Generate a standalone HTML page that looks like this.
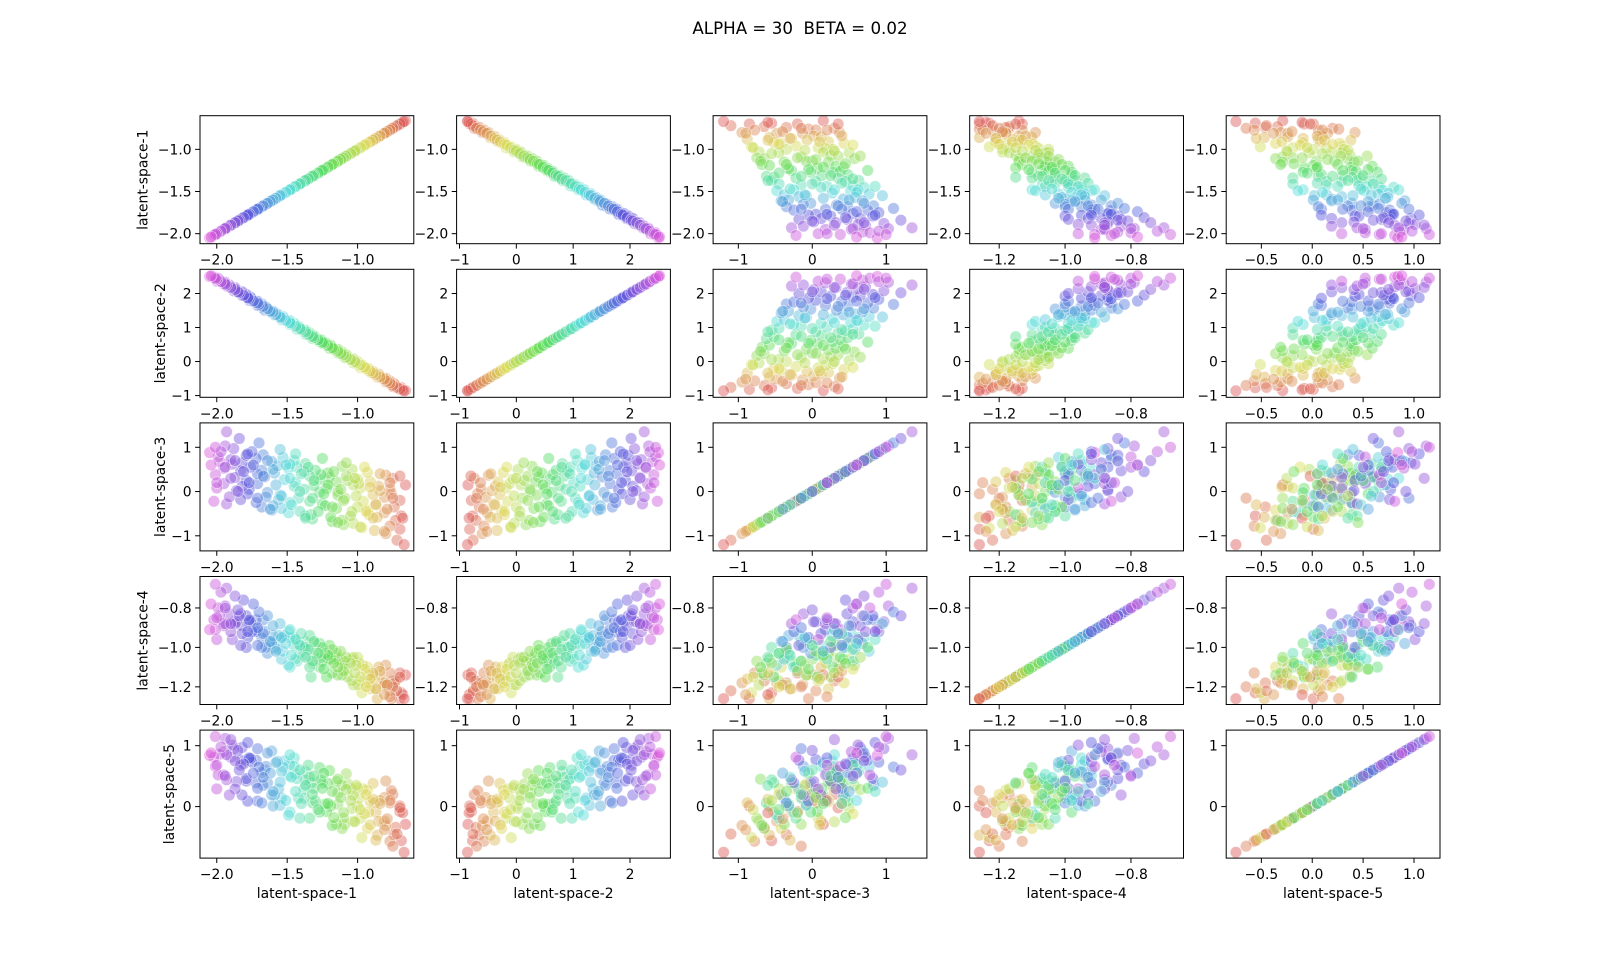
<!DOCTYPE html>
<html>
<head>
<meta charset="utf-8">
<style>
html,body{margin:0;padding:0;background:#fff;}
svg{display:block;font-family:"DejaVu Sans","Liberation Sans",sans-serif;}
</style>
</head>
<body>
<svg id="fig" width="1600" height="964" viewBox="0 0 1600 964" xmlns="http://www.w3.org/2000/svg">
<rect width="1600" height="964" fill="#fff"/>
<text x="800" y="34" text-anchor="middle" font-size="16.7" fill="#000" xml:space="preserve" style="white-space:pre">ALPHA = 30  BETA = 0.02</text>
</svg>
<script>
// ---- data: each sample = [latent-space-1 .. latent-space-5] ----
const varNames = ["latent-space-1","latent-space-2","latent-space-3","latent-space-4","latent-space-5"];
const dataLimits = [[-2.05,-0.67],[-0.88,2.54],[-1.21,1.42],[-1.26,-0.67],[-0.75,1.16]];
const xTickValues = [[-2.0,-1.5,-1.0],[-1,0,1,2],[-1,0,1],[-1.2,-1.0,-0.8],[-0.5,0.0,0.5,1.0]];
const xTickLabels = [["−2.0","−1.5","−1.0"],["−1","0","1","2"],["−1","0","1"],["−1.2","−1.0","−0.8"],["−0.5","0.0","0.5","1.0"]];
const yTickValues = [[-2.0,-1.5,-1.0],[-1,0,1,2],[-1,0,1],[-1.2,-1.0,-0.8],[0,1]];
const yTickLabels = [["−2.0","−1.5","−1.0"],["−1","0","1","2"],["−1","0","1"],["−1.2","−1.0","−0.8"],["0","1"]];
const samples = [
[-0.66,-0.85,0.15,-1.14,-0.29],[-0.70,-0.82,-0.85,-1.26,0.01],[-0.70,-0.79,-0.20,-1.13,-0.08],[-0.69,-0.77,-0.55,-1.23,-0.56],[-0.75,-0.74,0.30,-1.17,0.20],
[-0.73,-0.71,-0.65,-1.17,-0.34],[-0.76,-0.68,-0.05,-1.26,0.26],[-0.74,-0.65,-0.35,-1.18,-0.46],[-0.77,-0.62,0.05,-1.22,0.06],[-0.80,-0.60,-0.95,-1.18,-0.31],
[-0.77,-0.57,-0.78,-1.13,-0.57],[-0.81,-0.54,-0.13,-1.19,0.15],[-0.81,-0.51,-0.48,-1.18,-0.24],[-0.80,-0.49,0.37,-1.09,0.42],[-0.86,-0.46,-0.58,-1.26,-0.47],
[-0.84,-0.43,0.02,-1.14,0.10],[-0.87,-0.40,-0.28,-1.21,-0.09],[-0.85,-0.37,0.12,-1.10,-0.24],[-0.88,-0.34,-0.88,-1.16,0.06],[-0.91,-0.32,0.22,-1.21,0.08],
[-0.89,-0.29,-0.07,-1.14,0.38],[-0.93,-0.26,-0.42,-1.10,-0.36],[-0.93,-0.23,0.43,-1.18,0.27],[-0.92,-0.21,-0.52,-1.14,-0.09],[-0.98,-0.18,0.08,-1.17,-0.19],
[-0.96,-0.15,-0.22,-1.09,0.29],[-0.99,-0.12,0.18,-1.08,0.14],[-0.97,-0.09,-0.82,-1.23,-0.51],[-1.00,-0.06,0.28,-1.05,0.31],[-1.03,-0.04,-0.72,-1.19,-0.24],
[-1.00,0.00,-0.35,-1.19,0.01],[-1.04,0.03,0.50,-1.06,-0.03],[-1.04,0.06,-0.45,-1.17,0.29],[-1.03,0.08,0.15,-1.05,0.19],[-1.09,0.11,-0.15,-1.07,-0.29],
[-1.07,0.14,0.25,-1.15,0.37],[-1.10,0.17,-0.75,-1.07,-0.19],[-1.08,0.20,0.35,-1.11,0.54],[-1.11,0.23,-0.65,-1.14,-0.36],[-1.14,0.25,0.00,-1.06,0.22],
[-1.11,0.28,0.57,-1.09,0.35],[-1.15,0.31,-0.38,-1.05,-0.29],[-1.15,0.34,0.22,-1.03,0.41],[-1.14,0.36,-0.08,-1.14,0.04],[-1.20,0.39,0.32,-0.99,0.59],
[-1.18,0.42,-0.68,-1.13,-0.31],[-1.21,0.45,0.42,-1.06,0.38],[-1.19,0.48,-0.58,-1.06,0.01],[-1.22,0.51,0.07,-1.15,-0.08],[-1.25,0.53,-0.28,-1.07,0.39],
[-1.23,0.56,-0.32,-1.03,0.04],[-1.27,0.59,0.28,-1.10,0.64],[-1.27,0.62,-0.02,-0.98,-0.09],[-1.26,0.64,0.38,-1.05,0.43],[-1.32,0.67,-0.62,-1.08,0.06],
[-1.30,0.70,0.48,-0.98,0.09],[-1.33,0.73,-0.52,-1.15,0.39],[-1.31,0.76,0.13,-1.03,0.30],[-1.34,0.79,-0.22,-1.10,-0.19],[-1.37,0.81,0.63,-0.97,0.58],
[-1.34,0.84,0.35,-0.94,0.48],[-1.38,0.87,0.05,-1.04,0.29],[-1.38,0.90,0.45,-1.00,0.14],[-1.37,0.92,-0.55,-1.00,0.44],[-1.43,0.95,0.55,-1.07,0.46],
[-1.41,0.98,-0.45,-1.03,-0.19],[-1.44,1.01,0.20,-1.06,0.53],[-1.42,1.04,-0.15,-0.98,0.14],[-1.45,1.07,0.70,-0.95,0.80],[-1.48,1.09,-0.25,-1.10,-0.09],
[-1.45,1.12,0.12,-0.99,0.66],[-1.49,1.15,0.52,-0.92,0.51],[-1.49,1.18,-0.48,-1.09,-0.14],[-1.48,1.20,0.62,-0.95,0.69],[-1.54,1.23,-0.38,-1.06,0.14],
[-1.52,1.26,0.27,-0.94,0.75],[-1.55,1.29,-0.08,-0.96,0.02],[-1.53,1.32,0.77,-1.02,0.65],[-1.56,1.35,-0.18,-0.94,0.29],[-1.59,1.37,0.42,-1.00,0.19],
[-1.57,1.40,0.58,-1.01,0.74],[-1.61,1.43,-0.42,-0.97,0.19],[-1.61,1.46,0.68,-0.98,0.91],[-1.60,1.48,-0.32,-0.94,0.01],[-1.66,1.51,0.33,-0.92,0.60],
[-1.64,1.54,-0.02,-1.03,0.39],[-1.67,1.57,0.83,-0.86,0.35],[-1.65,1.60,-0.12,-1.00,0.66],[-1.68,1.63,0.48,-0.95,0.56],[-1.71,1.65,0.18,-0.91,0.09],
[-1.68,1.69,-0.35,-1.00,0.06],[-1.72,1.72,0.75,-0.86,0.76],[-1.72,1.75,-0.25,-0.92,0.39],[-1.71,1.77,0.40,-0.99,0.30],[-1.77,1.80,0.05,-0.87,0.77],
[-1.75,1.83,0.90,-0.92,0.73],[-1.78,1.86,-0.05,-0.95,0.09],[-1.76,1.89,0.55,-0.87,0.79],[-1.79,1.92,0.25,-1.00,0.42],[-1.82,1.94,0.65,-0.89,0.97],
[-1.79,1.97,0.82,-0.84,0.46],[-1.83,2.00,-0.18,-0.99,0.76],[-1.83,2.03,0.47,-0.83,0.68],[-1.82,2.05,0.12,-0.93,0.19],[-1.88,2.08,0.97,-0.87,0.95],
[-1.86,2.11,0.02,-0.87,0.41],[-1.89,2.14,0.62,-0.96,1.01],[-1.87,2.17,0.32,-0.88,0.29],[-1.90,2.20,0.72,-0.92,0.81],[-1.93,2.22,-0.28,-0.88,0.44],
[-1.91,2.25,-0.12,-0.83,0.19],[-1.95,2.28,0.53,-0.89,0.90],[-1.95,2.31,0.18,-0.88,0.52],[-1.94,2.33,1.03,-0.79,1.12],[-2.00,2.36,0.08,-0.96,0.29],
[-1.98,2.39,0.68,-0.84,0.86],[-2.01,2.42,0.38,-0.91,0.66],[-1.99,2.45,0.78,-0.80,0.52],[-2.02,2.48,-0.22,-0.86,0.81],[-2.05,2.50,0.88,-0.91,0.84],
[-0.68,-0.83,-0.60,-1.24,-0.10],[-0.70,-0.80,0.35,-1.15,-0.02],[-0.72,-0.76,-1.10,-1.22,-0.45],[-0.75,-0.70,-0.15,-1.20,-0.65],[-0.77,-0.63,0.20,-1.25,0.10],
[-0.79,-0.58,-0.40,-1.19,-0.20],[-0.81,-0.52,-0.90,-1.24,-0.38],[-0.84,-0.45,0.40,-1.12,0.05],[-0.87,-0.38,-0.30,-1.21,-0.55],[-0.89,-0.34,-0.60,-1.13,0.12],
[-0.91,-0.28,0.10,-1.16,-0.30],[-0.94,-0.21,-0.45,-1.20,0.20],[-0.95,-0.17,0.55,-1.11,-0.12],[-0.98,-0.10,-0.80,-1.15,-0.05],[-1.01,-0.04,-0.10,-1.09,0.35],
[-1.02,0.00,0.30,-1.13,-0.25],[-1.05,0.06,-0.55,-1.08,0.10],[-1.08,0.13,0.65,-1.05,0.28],[-1.10,0.20,-0.20,-1.12,-0.10],[-1.12,0.24,0.05,-1.02,0.15],
[-1.14,0.30,-0.70,-1.10,0.45],[-1.17,0.37,0.45,-1.08,-0.18],[-1.18,0.40,-0.35,-1.01,0.25],[-1.21,0.47,0.15,-1.04,0.05],[-1.24,0.54,-0.05,-1.11,0.55],
[-1.25,0.57,0.75,-1.00,0.30],[-1.28,0.64,-0.45,-1.03,-0.05],[-1.31,0.70,0.25,-0.97,0.50],[-1.32,0.74,-0.15,-1.07,0.20],[-1.35,0.80,0.55,-1.01,0.68],
[-1.37,0.87,-0.60,-1.05,0.35],[-1.40,0.94,0.40,-0.93,0.05],[-1.41,0.97,0.00,-0.99,0.60],[-1.44,1.04,0.85,-0.96,0.25],[-1.47,1.11,-0.30,-1.04,0.48],
[-1.48,1.14,0.30,-0.91,0.85],[-1.51,1.21,0.60,-0.98,0.10],[-1.54,1.28,-0.10,-0.95,0.58],[-1.55,1.31,0.95,-0.88,0.40],[-1.58,1.38,0.15,-1.02,0.72],
[-1.60,1.45,0.50,-0.89,0.25],[-1.62,1.48,-0.40,-0.97,0.55],[-1.64,1.55,0.70,-0.84,0.88],[-1.67,1.62,0.35,-0.93,0.48],[-1.70,1.68,1.10,-0.82,0.65],
[-1.71,1.72,-0.15,-0.90,0.95],[-1.74,1.78,0.60,-0.78,0.55],[-1.77,1.85,0.20,-0.86,0.80],[-1.78,1.88,0.85,-0.92,1.05],[-1.81,1.95,0.45,-0.76,0.70],
[-1.84,2.02,1.20,-0.84,0.60],[-1.85,2.05,0.00,-0.81,0.92],[-1.87,2.12,0.70,-0.74,0.75],[-1.90,2.18,0.30,-0.88,1.10],[-1.93,2.25,1.35,-0.70,0.85],
[-1.94,2.28,0.55,-0.80,0.50],[-1.97,2.35,0.90,-0.72,0.98],[-2.00,2.42,0.20,-0.85,0.68],[-2.01,2.45,1.00,-0.68,1.15],[-2.04,2.52,0.60,-0.78,0.88],
[-0.67,-0.86,-1.20,-1.26,-0.75]
];

// ---- layout ----
const NS = "http://www.w3.org/2000/svg";
const svg = document.getElementById("fig");
const colX = [200, 456.6, 713.1, 969.7, 1226.2];
const rowY = [115.7, 269.3, 422.9, 576.5, 730.1];
const CW = 213.8, RH = 128;

function mk(tag, attrs, parent){
  const e = document.createElementNS(NS, tag);
  for (const k in attrs) e.setAttribute(k, attrs[k]);
  (parent || svg).appendChild(e);
  return e;
}
function lim(v){
  const lo = dataLimits[v][0], hi = dataLimits[v][1], m = (hi - lo) * 0.05;
  return [lo - m, hi + m];
}
function sx(col, val){ const L = lim(col); return colX[col] + (val - L[0]) / (L[1] - L[0]) * CW; }
function sy(row, val){ const L = lim(row); return rowY[row] + RH - (val - L[0]) / (L[1] - L[0]) * RH; }
function hueColor(v){
  const t = Math.max(0, Math.min(1, (dataLimits[0][1] - v) / (dataLimits[0][1] - dataLimits[0][0])));
  return "hsl(" + (t * 300).toFixed(1) + ",65%,60%)";
}

for (let r = 0; r < 5; r++){
  for (let c = 0; c < 5; c++){
    const g = mk("g", {});
    
    
    const clipId = "clip" + r + "_" + c;
    const cp = mk("clipPath", {id: clipId}, g);
    mk("rect", {x: colX[c], y: rowY[r], width: CW, height: RH}, cp);
    const pts = mk("g", {"clip-path": "url(#" + clipId + ")"}, g);
    
    
    samples.forEach(function(s){
      const p = mk("circle", {cx: sx(c, s[c]).toFixed(1), cy: sy(r, s[r]).toFixed(1), r: 5.8,
        fill: hueColor(s[0]), "fill-opacity": 0.45, stroke: "#fff", "stroke-opacity": 0.6, "stroke-width": 0.7}, pts);
      
      
    });
    const frame = mk("rect", {x: colX[c], y: rowY[r], width: CW, height: RH, fill: "none", stroke: "#000", "stroke-width": 1}, g);
    
    
    xTickValues[c].forEach(function(v, i){
      const x = sx(c, v), yb = rowY[r] + RH;
      mk("line", {x1: x, y1: yb, x2: x, y2: yb + 4.9, stroke: "#000", "stroke-width": 1}, g);
      const t = mk("text", {x: x, y: yb + 21, "text-anchor": "middle", "font-size": 13.9, fill: "#000"}, g);
      t.textContent = xTickLabels[c][i];
      
      
    });
    let maxW = 0;
    yTickValues[r].forEach(function(v, i){
      const y = sy(r, v), xl = colX[c];
      mk("line", {x1: xl - 4.9, y1: y, x2: xl, y2: y, stroke: "#000", "stroke-width": 1}, g);
      const t = mk("text", {x: xl - 8.4, y: y + 5, "text-anchor": "end", "font-size": 13.9, fill: "#000"}, g);
      t.textContent = yTickLabels[r][i];
      
      
      maxW = Math.max(maxW, yTickLabels[r][i].length * 8.8);
    });
    if (c === 0){
      const lx = colX[0] - 8.4 - maxW - 9;
      const cy = rowY[r] + RH / 2;
      const yl = mk("text", {x: lx, y: cy, "text-anchor": "middle", "font-size": 13.9, fill: "#000",
        transform: "rotate(-90 " + lx + " " + cy + ")"}, g);
      yl.textContent = varNames[r];
      
      
    }
    if (r === 4){
      const xl = mk("text", {x: colX[c] + CW / 2, y: rowY[4] + RH + 40, "text-anchor": "middle", "font-size": 13.9, fill: "#000"}, g);
      xl.textContent = varNames[c];
      
      
    }
  }
}
</script>
</body>
</html>
